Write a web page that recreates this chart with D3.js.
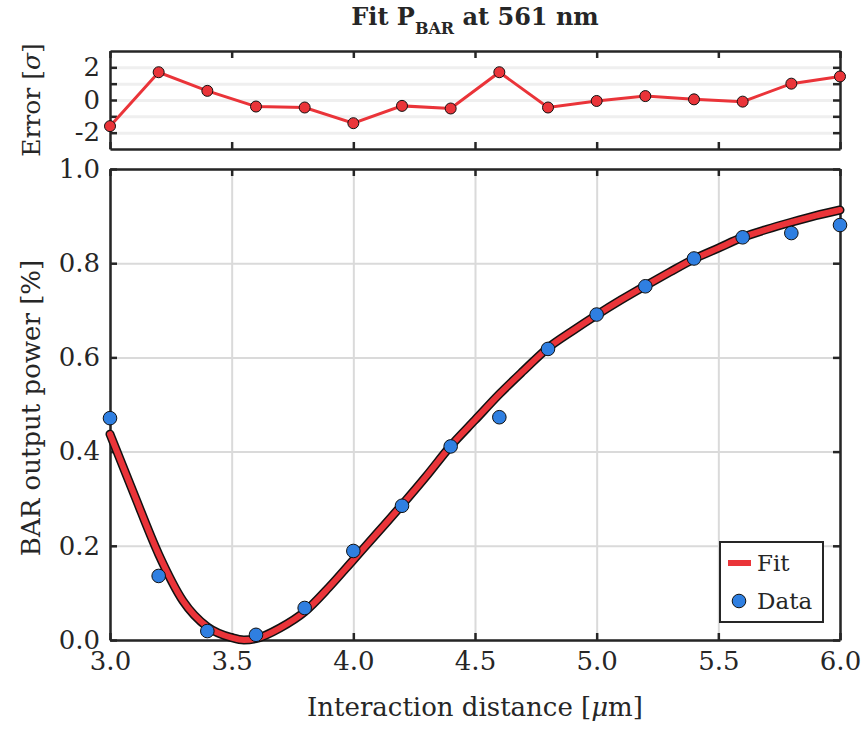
<html lang='en'>
    <head>
        <title>Fit P_BAR at 561 nm</title>
        <script src="https://d3js.org/d3.v7.min.js" charset="utf-8"></script>
        <style>
          body {
            margin: 0;
            background: #fff;
            font-family: "DejaVu Serif", "Liberation Serif", serif;
          }
          text { fill: #262626; }
          .grid line { stroke: #dadada; stroke-width: 2; }
          .grid path { display: none; }
          .errgrid line { stroke: #efefef; stroke-width: 3; }
          .errgrid path { display: none; }
          .ax path, .ax line { stroke: #262626; stroke-width: 2.5; }
          .ax text { font-family: "DejaVu Serif", "Liberation Serif", serif; font-size: 26px; fill: #262626; }
        </style>
    </head>
    <body>
        <script>
            // data
            var distance = [3.0, 3.2, 3.4, 3.6, 3.8, 4.0, 4.2, 4.4, 4.6, 4.8, 5.0, 5.2, 5.4, 5.6, 5.8, 6.0]
            var power = [0.471, 0.136, 0.019, 0.011, 0.068, 0.189, 0.285, 0.411, 0.473, 0.618, 0.691, 0.751, 0.810, 0.855, 0.864, 0.881]
            var errorSigma = [-1.6, 1.7, 0.56, -0.4, -0.46, -1.42, -0.36, -0.52, 1.7, -0.46, -0.06, 0.24, 0.04, -0.1, 1.0, 1.44]

            var fitDistance = [3.0, 3.1, 3.2, 3.3, 3.4, 3.5, 3.55, 3.6, 3.7, 3.8, 3.9, 4.0, 4.1, 4.2, 4.3, 4.4, 4.5,
                               4.6, 4.7, 4.8, 4.9, 5.0, 5.1, 5.2, 5.3, 5.4, 5.5, 5.6, 5.7, 5.8, 5.9, 6.0]
            var fitPower = [0.437, 0.308, 0.182, 0.083, 0.028, 0.005, 0.0, 0.003, 0.026, 0.060, 0.112, 0.170, 0.228, 0.287, 0.348, 0.412, 0.467,
                            0.522, 0.572, 0.620, 0.656, 0.690, 0.722, 0.752, 0.781, 0.809, 0.832, 0.855, 0.872, 0.887, 0.901, 0.913]

            var xTicks = [3.0, 3.5, 4.0, 4.5, 5.0, 5.5, 6.0]
            var powerTicks = [0, 0.2, 0.4, 0.6, 0.8, 1.0]
            var errorTicks = [-2, -1, 0, 1, 2]
            var errorLabels = [-2, 0, 2]

            var width = 862
            var height = 729
            var red = "#ea3439"
            var blue = "#2f7fe1"

            var svg = d3.select("body")
                        .append("svg")
                        .attr("width", width)
                        .attr("height", height)

            var x = d3.scaleLinear().domain([3, 6]).range([110, 840])
            var y = d3.scaleLinear().domain([0, 1]).range([640, 169])
            var yErr = d3.scaleLinear().domain([-3, 3]).range([149, 51])

            // ---- error panel ----
            svg.append("g").attr("class", "errgrid")
              .attr("transform", "translate(110,0)")
              .call(d3.axisLeft(yErr).tickValues(errorTicks).tickSize(-730).tickFormat(""))

            svg.append("g").attr("class", "ax")
              .attr("transform", "translate(110,0)")
              .call(d3.axisLeft(yErr).tickValues(errorTicks).tickSize(-7).tickSizeOuter(0).tickPadding(10)
                .tickFormat(function(d) { return errorLabels.indexOf(d) >= 0 ? d : "" }))
            svg.append("g").attr("class", "ax")
              .attr("transform", "translate(840,0)")
              .call(d3.axisRight(yErr).tickValues(errorTicks).tickSize(-7).tickSizeOuter(0).tickFormat(""))
            svg.append("g").attr("class", "ax")
              .attr("transform", "translate(0,149)")
              .call(d3.axisBottom(x).tickValues(xTicks).tickSize(-7).tickSizeOuter(0).tickFormat(""))
            svg.append("g").attr("class", "ax")
              .attr("transform", "translate(0,51)")
              .call(d3.axisTop(x).tickValues(xTicks).tickSize(-7).tickSizeOuter(0).tickFormat(""))

            var errLine = d3.line()
              .x(function(d, i) { return x(distance[i]) })
              .y(function(d) { return yErr(d) })

            svg.append("path")
              .datum(errorSigma)
              .attr("d", errLine)
              .attr("fill", "none")
              .attr("stroke", red)
              .attr("stroke-width", 3)

            svg.append("g").selectAll("circle")
              .data(errorSigma)
              .enter()
              .append("circle")
              .attr("cx", function(d, i) { return x(distance[i]) })
              .attr("cy", function(d) { return yErr(d) })
              .attr("r", 5.5)
              .attr("fill", red)
              .attr("stroke", "#111")
              .attr("stroke-width", 1)

            // ---- main panel ----
            svg.append("g").attr("class", "grid")
              .attr("transform", "translate(0,640)")
              .call(d3.axisBottom(x).tickValues(xTicks).tickSize(-471).tickFormat(""))
            svg.append("g").attr("class", "grid")
              .attr("transform", "translate(110,0)")
              .call(d3.axisLeft(y).tickValues(powerTicks).tickSize(-730).tickFormat(""))

            svg.append("g").attr("class", "ax")
              .attr("transform", "translate(110,0)")
              .call(d3.axisLeft(y).tickValues(powerTicks).tickSize(-7).tickSizeOuter(0).tickPadding(10)
                .tickFormat(d3.format(".1f")))
            svg.append("g").attr("class", "ax")
              .attr("transform", "translate(840,0)")
              .call(d3.axisRight(y).tickValues(powerTicks).tickSize(-7).tickSizeOuter(0).tickFormat(""))
            svg.append("g").attr("class", "ax")
              .attr("transform", "translate(0,640)")
              .call(d3.axisBottom(x).tickValues(xTicks).tickSize(-7).tickSizeOuter(0).tickPadding(12)
                .tickFormat(d3.format(".1f")))
            svg.append("g").attr("class", "ax")
              .attr("transform", "translate(0,169)")
              .call(d3.axisTop(x).tickValues(xTicks).tickSize(-7).tickSizeOuter(0).tickFormat(""))

            var fitLine = d3.line()
              .x(function(d, i) { return x(fitDistance[i]) })
              .y(function(d) { return y(d) })
              .curve(d3.curveMonotoneX)

            // black outline under the red fit
            svg.append("path")
              .datum(fitPower)
              .attr("d", fitLine)
              .attr("fill", "none")
              .attr("stroke", "#111")
              .attr("stroke-width", 9)
              .attr("stroke-linecap", "round")
            svg.append("path")
              .datum(fitPower)
              .attr("d", fitLine)
              .attr("fill", "none")
              .attr("stroke", red)
              .attr("stroke-width", 6)
              .attr("stroke-linecap", "round")

            svg.append("g").selectAll("circle")
              .data(power)
              .enter()
              .append("circle")
              .attr("cx", function(d, i) { return x(distance[i]) })
              .attr("cy", function(d) { return y(d) })
              .attr("r", 6.8)
              .attr("fill", blue)
              .attr("stroke", "#111")
              .attr("stroke-width", 1)

            // legend
            var leg = svg.append("g")
            leg.append("rect")
              .attr("x", 720).attr("y", 542).attr("width", 103).attr("height", 80)
              .attr("fill", "#fff").attr("stroke", "#262626").attr("stroke-width", 2)
            leg.append("line")
              .attr("x1", 728).attr("x2", 751).attr("y1", 563).attr("y2", 563)
              .attr("stroke", red).attr("stroke-width", 6)
            leg.append("text").attr("x", 757).attr("y", 571).attr("font-size", 23).text("Fit")
            leg.append("circle")
              .attr("cx", 739).attr("cy", 601).attr("r", 6.8)
              .attr("fill", blue).attr("stroke", "#111").attr("stroke-width", 1)
            leg.append("text").attr("x", 757).attr("y", 609).attr("font-size", 23).text("Data")

            // titles
            var xt = svg.append("text")
              .attr("x", 475).attr("y", 716)
              .attr("text-anchor", "middle")
              .attr("font-size", 26)
            xt.append("tspan").text("Interaction distance [")
            xt.append("tspan").attr("font-style", "italic").text("μ")
            xt.append("tspan").text("m]")

            svg.append("text")
              .attr("transform", "translate(40,408) rotate(-90)")
              .attr("text-anchor", "middle")
              .attr("font-size", 26)
              .text("BAR output power [%]")

            var et = svg.append("text")
              .attr("transform", "translate(40,100) rotate(-90)")
              .attr("text-anchor", "middle")
              .attr("font-size", 25)
            et.append("tspan").text("Error [")
            et.append("tspan").attr("font-style", "italic").text("σ")
            et.append("tspan").text("]")

            var tt = svg.append("text")
              .attr("x", 475).attr("y", 25)
              .attr("text-anchor", "middle")
              .attr("font-size", 24)
              .attr("font-weight", "bold")
            tt.append("tspan").text("Fit P")
            tt.append("tspan").attr("font-size", 16).attr("dy", 9).text("BAR")
            tt.append("tspan").attr("dy", -9).text(" at 561 nm")
        </script>
    </body>
</html>
